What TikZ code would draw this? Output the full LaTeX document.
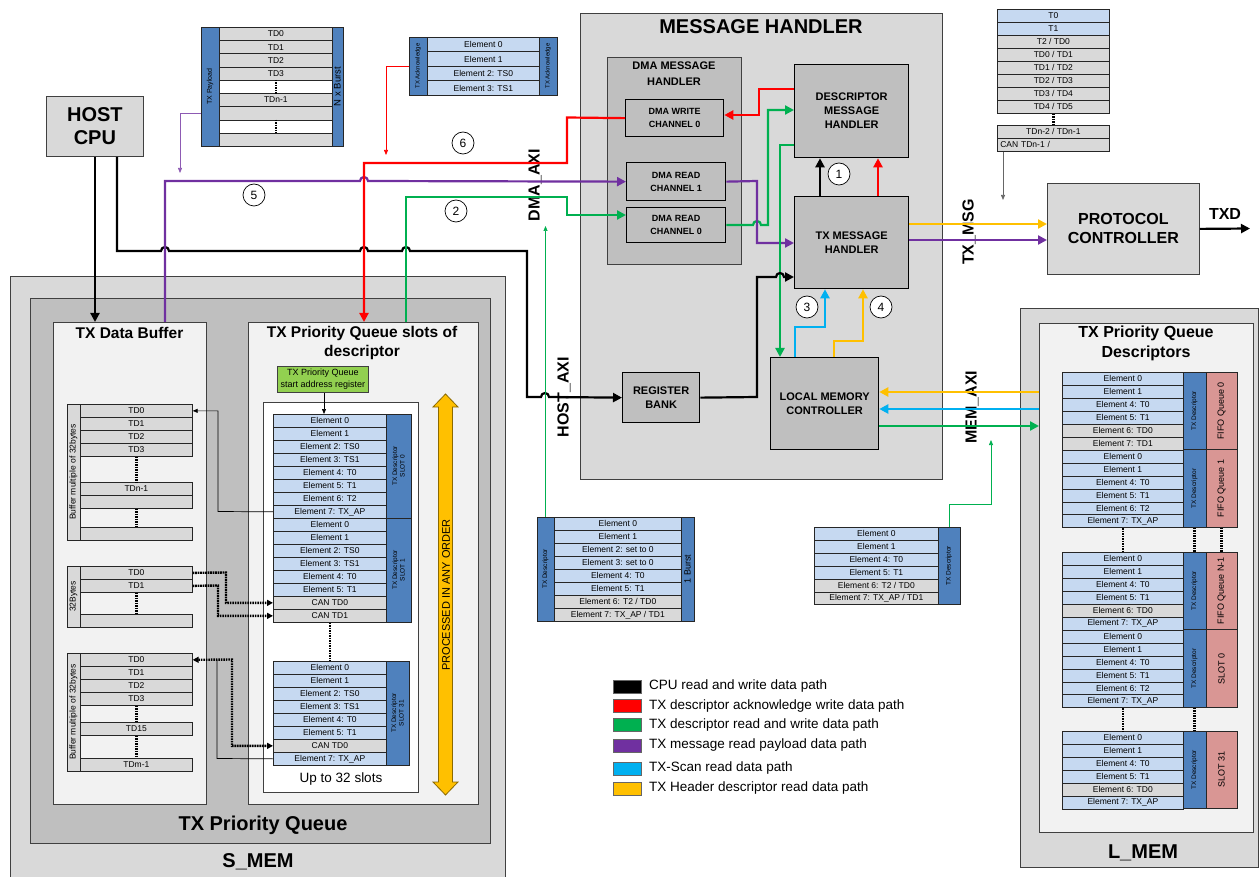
\documentclass[tikz,border=0pt]{standalone}
\usepackage{fontspec}
\setmainfont{Liberation Sans}
\usetikzlibrary{arrows.meta, positioning, calc}

\definecolor{boxgray}{HTML}{D9D9D9}
\definecolor{midgray}{HTML}{BFBFBF}
\definecolor{paper}{HTML}{F2F2F2}
\definecolor{rowblue}{HTML}{C6D9F1}
\definecolor{rowgray}{HTML}{D9D9D9}
\definecolor{barblue}{HTML}{4F81BD}
\definecolor{barred}{HTML}{D99694}
\definecolor{regreen}{HTML}{92D050}
\definecolor{pathred}{HTML}{FF0000}
\definecolor{pathgreen}{HTML}{00B050}
\definecolor{pathpurple}{HTML}{7030A0}
\definecolor{pathblue}{HTML}{00B0F0}
\definecolor{pathyellow}{HTML}{FFC000}

\newcommand{\fsz}[2]{\fontsize{#1}{#2}\selectfont}

\tikzset{
  box/.style={draw=black!75, line width=0.8pt, anchor=north west, inner sep=0pt, align=center},
  blk/.style={draw=black, line width=1.3pt, fill=midgray, anchor=north west, inner sep=0pt, align=center},
  cell/.style={draw=black!85, line width=0.7pt, anchor=north west, inner sep=0pt, font=\fsz{8.5}{9}},
  bar/.style={draw=black!85, line width=0.7pt, inner sep=0pt, rotate=90, align=center, font=\fsz{6.5}{7.5}},
  wire/.style={line width=2.2pt, -{Triangle[length=9pt,width=9pt]}},
  feed/.style={line width=0.7pt, -{Triangle[length=5pt,width=4pt]}},
  gapline/.style={line width=2.4pt, dash pattern=on 1.6pt off 0.9pt},
  num/.style={draw, circle, fill=white, line width=0.7pt, minimum size=22pt, inner sep=0pt, font=\fsz{12}{12}},
  legswatch/.style={draw=black!60, line width=0.6pt, minimum width=28pt, minimum height=13pt, inner sep=0pt},
}

% rows of a descriptor / buffer, top left corner at (x,y)
\newcommand{\cellstack}[6]{%
  \foreach \col/\lab [count=\k from 0] in {#6}{%
    \node[cell, fill=\col, minimum width=#4, minimum height=#5] (#1\k) at (#2,{#3+\k*#5}) {\lab};
  }%
}
% side bar with rotated text: name, fill, x1, y1, x2, y2, text
\newcommand{\sidebar}[7]{%
  \node[bar, fill=#2, minimum width={#6-#4}, minimum height={#5-#3}] (#1) at ({(#3+#5)/2},{(#4+#6)/2}) {#7};
}

\begin{document}
\begin{tikzpicture}[x=1pt, y=-1pt]
\useasboundingbox (0,0) rectangle (1259,877);

% S_MEM
\node[box, fill=boxgray, minimum width=495, minimum height=620] (smem) at (10,276) {};
\node[box, fill=midgray, minimum width=460, minimum height=545] (pq) at (30,298) {};
\node[box, fill=paper, minimum width=153, minimum height=482] (buf) at (53,322) {};
\node[box, fill=paper, minimum width=230, minimum height=482] (pqs) at (248,322) {};
\node[box, fill=white, minimum width=155, minimum height=390] (slots) at (263,402) {};
\node[font=\fsz{20}{20}\bfseries] (smemlbl) at (258,862) {S\_MEM};
\node[font=\fsz{20}{20}\bfseries] (pqlbl) at (263,825) {TX Priority Queue};
\node[font=\fsz{15.5}{15.5}\bfseries] (buflbl) at (129.5,333) {TX Data Buffer};
\node[font=\fsz{15.5}{19}\bfseries, align=center] (pqslbl) at (362,343) {TX Priority Queue slots of\\descriptor};
\node[box, fill=regreen, minimum width=91, minimum height=26, font=\fsz{9}{12}] (sareg) at (277,366) {TX Priority Queue\\start address register};

% slots
\cellstack{sa}{273}{414}{113}{13}{rowblue/Element 0, rowblue/Element 1, rowblue/Element 2: TS0, rowblue/Element 3: TS1, rowblue/Element 4: T0, rowblue/Element 5: T1, rowblue/Element 6: T2, rowblue/Element 7: TX\_AP}
\sidebar{sabar}{barblue}{386}{414}{411}{518}{TX Descriptor\\SLOT 0}
\cellstack{sb}{273}{518}{113}{13}{rowblue/Element 0, rowblue/Element 1, rowblue/Element 2: TS0, rowblue/Element 3: TS1, rowblue/Element 4: T0, rowblue/Element 5: T1, rowgray/CAN TD0, rowgray/CAN TD1}
\sidebar{sbbar}{barblue}{386}{518}{411}{622}{TX Descriptor\\SLOT 1}
\cellstack{sc}{273}{661}{113}{13}{rowblue/Element 0, rowblue/Element 1, rowblue/Element 2: TS0, rowblue/Element 3: TS1, rowblue/Element 4: T0, rowblue/Element 5: T1, rowgray/CAN TD0, rowblue/Element 7: TX\_AP}
\sidebar{scbar}{barblue}{386}{661}{409}{765}{TX Descriptor\\SLOT 31}
\draw[gapline] (sb7.south) -- (sc0.north);
\node[font=\fsz{13.5}{13.5}] (upto) at (341,779) {Up to 32 slots};
\draw[feed] (sareg.south -| 324,0) -- (sa0.north -| 324,0);

% processing order arrow
\draw[fill=pathyellow, draw=black!45!pathyellow, line width=0.8pt] (445.5,394) -- (458,407) -- (452.5,407) -- (452.5,782) -- (458,782) -- (445.5,795) -- (433,782) -- (438.5,782) -- (438.5,407) -- (433,407) -- cycle;
\node[rotate=90, font=\fsz{11}{11}] (order) at (446,595) {PROCESSED IN ANY ORDER};

% data buffers
\cellstack{ba}{80}{404}{112}{13}{rowgray/TD0, rowgray/TD1, rowgray/TD2, rowgray/TD3}
\cellstack{bn}{80}{482}{112}{13}{rowgray/TDn-1, rowgray/{}}
\cellstack{be}{80}{527}{112}{13}{rowgray/{}}
\sidebar{babar}{rowgray}{67}{404}{80}{540}{\fsz{8.5}{9}Buffer multiple of 32bytes}
\draw[gapline] (ba3.south) -- (bn0.north);
\draw[gapline] (bn1.south) -- (be0.north);

\cellstack{bb}{80}{566}{112}{13}{rowgray/TD0, rowgray/TD1}
\cellstack{bf}{80}{614}{112}{13}{rowgray/{}}
\sidebar{bbbar}{rowgray}{67}{566}{80}{627}{\fsz{8.5}{9}32Bytes}
\draw[gapline] (bb1.south) -- (bf0.north);

\cellstack{bc}{80}{653}{112}{13}{rowgray/TD0, rowgray/TD1, rowgray/TD2, rowgray/TD3}
\cellstack{bd}{80}{722}{112}{13}{rowgray/TD15}
\cellstack{bm}{80}{758}{112}{13}{rowgray/TDm-1}
\sidebar{bcbar}{rowgray}{67}{653}{80}{771}{\fsz{8.5}{9}Buffer multiple of 32bytes}
\draw[gapline] (bc3.south) -- (bd0.north);
\draw[gapline] (bd0.south) -- (bm0.north);

\draw[feed] (sa7.west) -- (218,511.5) |- (ba0.east);
\draw[gapline, -{Triangle[length=6pt,width=6pt]}] (bb0.east) -- (226,572.5) |- (sb6.west);
\draw[gapline, -{Triangle[length=6pt,width=6pt]}] (bb1.east) -- (218,585.5) |- (sb7.west);
\draw[gapline, {Triangle[length=6pt,width=6pt]}-{Triangle[length=6pt,width=6pt]}] (bc0.east) -- (232,659.5) |- (sc6.west);
\draw[line width=0.7pt] (sc7.west) -- (217,758.5) -- (217,659.5);

% payload and acknowledge
\sidebar{paybar}{barblue}{201}{27}{219}{146}{\fsz{7}{7}TX Payload}
\cellstack{pl}{219}{27}{113}{13.22}{rowgray/TD0, rowgray/TD1, rowgray/TD2, rowgray/TD3, white/{}, rowgray/TDn-1, rowgray/{}, white/{}, rowgray/{}}
\sidebar{burstbar}{barblue}{332}{27}{343}{146}{\fsz{9.5}{9.5}N x Burst}
\draw[gapline] (pl4.north) -- (pl4.south);
\draw[gapline] (pl7.north) -- (pl7.south);

\sidebar{ackl}{barblue}{409}{37}{427}{95}{\fsz{6}{6}TX Acknowledge}
\cellstack{ak}{427}{37}{112}{14.5}{rowblue/Element 0, rowblue/Element 1, rowblue/Element 2: TS0, rowblue/Element 3: TS1}
\sidebar{ackr}{barblue}{539}{37}{557}{95}{\fsz{6}{6}TX Acknowledge}

\node[box, fill=boxgray, minimum width=97, minimum height=60, font=\fsz{20}{23}\bfseries] (cpu) at (46,96) {HOST\\CPU};

% message handler
\node[box, fill=boxgray, minimum width=362, minimum height=466] (mh) at (580,13) {};
\node[font=\fsz{20}{20}\bfseries] (mhlbl) at (761,27) {MESSAGE HANDLER};
\node[box, fill=midgray, line width=1pt, minimum width=134, minimum height=207] (dmah) at (607,57) {};
\node[font=\fsz{11}{16}\bfseries, align=center] (dmahlbl) at (674,74) {DMA MESSAGE\\HANDLER};
\node[blk, minimum width=98, minimum height=37, font=\fsz{9}{13}\bfseries] (dmaw) at (625,99) {DMA WRITE\\CHANNEL 0};
\node[blk, minimum width=99, minimum height=38, font=\fsz{9}{13}\bfseries] (dmar1) at (626,162) {DMA READ\\CHANNEL 1};
\node[blk, minimum width=99, minimum height=35, font=\fsz{9}{13}\bfseries] (dmar0) at (626,207) {DMA READ\\CHANNEL 0};
\node[blk, minimum width=114, minimum height=93, font=\fsz{11}{14}\bfseries] (desc) at (794,64) {DESCRIPTOR\\MESSAGE\\HANDLER};
\node[blk, minimum width=114, minimum height=92, font=\fsz{11}{14}\bfseries] (txmh) at (794,196) {TX MESSAGE\\HANDLER};
\node[blk, minimum width=77, minimum height=50, font=\fsz{11}{14}\bfseries] (regb) at (622,372) {REGISTER\\BANK};
\node[blk, minimum width=108, minimum height=92, font=\fsz{11}{14}\bfseries] (lmc) at (770,357) {LOCAL MEMORY\\CONTROLLER};

% protocol controller
\node[box, fill=boxgray, minimum width=152, minimum height=91, font=\fsz{16}{19}\bfseries] (proto) at (1047,183) {PROTOCOL\\CONTROLLER};
\node[font=\fsz{16}{16}\bfseries] (txd) at (1225,214) {TXD};

\cellstack{tm}{997}{9}{112}{13}{rowblue/T0, rowblue/T1, rowgray/{T2 / TD0}, rowgray/{TD0 / TD1}, rowgray/{TD1 / TD2}, rowgray/{TD2 / TD3}, rowgray/{TD3 / TD4}, rowgray/{TD4 / TD5}}
\cellstack{tn}{997}{125}{112}{13}{rowgray/{TDn-2 / TDn-1}}
\node[cell, fill=rowgray, minimum width=112, minimum height=13, text width=106pt, align=left] (tnlast) at (997,138) {CAN TDn-1 /};
\draw[gapline] (tm7.south) -- (tn0.north);
\draw[feed, black!60] ($(tnlast.south west)+(6,0)$) -- (1003,200);

% L_MEM
\node[box, fill=boxgray, minimum width=238, minimum height=559] (lmem) at (1020,308) {};
\node[box, fill=paper, minimum width=214, minimum height=509] (lmin) at (1039,323) {};
\node[font=\fsz{16}{20}\bfseries, align=center] (lminlbl) at (1146,343) {TX Priority Queue\\Descriptors};
\node[font=\fsz{20}{20}\bfseries] (lmemlbl) at (1143,853) {L\_MEM};

\cellstack{qa}{1062}{372}{121}{12.95}{rowblue/Element 0, rowblue/Element 1, rowblue/Element 4: T0, rowblue/Element 5: T1, rowgray/Element 6: TD0, rowgray/Element 7: TD1}
\sidebar{qabar}{barblue}{1183}{372}{1206}{449.7}{TX Descriptor}
\sidebar{qared}{barred}{1206}{372}{1237}{449.7}{\fsz{9}{9}FIFO Queue 0}
\cellstack{qb}{1062}{449.7}{121}{12.95}{rowblue/Element 0, rowblue/Element 1, rowblue/Element 4: T0, rowblue/Element 5: T1, rowblue/Element 6: T2, rowblue/Element 7: TX\_AP}
\sidebar{qbbar}{barblue}{1183}{449.7}{1206}{527.4}{TX Descriptor}
\sidebar{qbred}{barred}{1206}{449.7}{1237}{527.4}{\fsz{9}{9}FIFO Queue 1}
\cellstack{qc}{1062}{552}{121}{12.95}{rowblue/Element 0, rowblue/Element 1, rowblue/Element 4: T0, rowblue/Element 5: T1, rowgray/Element 6: TD0, rowblue/Element 7: TX\_AP}
\sidebar{qcbar}{barblue}{1183}{552}{1206}{629.7}{TX Descriptor}
\sidebar{qcred}{barred}{1206}{552}{1237}{629.7}{\fsz{9}{9}FIFO Queue N-1}
\cellstack{qd}{1062}{629.7}{121}{12.95}{rowblue/Element 0, rowblue/Element 1, rowblue/Element 4: T0, rowblue/Element 5: T1, rowblue/Element 6: T2, rowblue/Element 7: TX\_AP}
\sidebar{qdbar}{barblue}{1183}{629.7}{1206}{707.4}{TX Descriptor}
\sidebar{qdred}{barred}{1206}{629.7}{1237}{707.4}{\fsz{9}{9}SLOT 0}
\cellstack{qe}{1062}{731}{121}{12.95}{rowblue/Element 0, rowblue/Element 1, rowblue/Element 4: T0, rowblue/Element 5: T1, rowgray/Element 6: TD0, rowblue/Element 7: TX\_AP}
\sidebar{qebar}{barblue}{1183}{731}{1206}{808.7}{TX Descriptor}
\sidebar{qered}{barred}{1206}{731}{1237}{808.7}{\fsz{9}{9}SLOT 31}
\draw[gapline] (qb5.south) -- (qc0.north);
\draw[gapline] (qbbar.west) -- (qcbar.east);
\draw[gapline] (qbred.west) -- (qcred.east);
\draw[gapline] (qd5.south) -- (qe0.north);
\draw[gapline] (qdbar.west) -- (qebar.east);

% descriptors in flight
\sidebar{bstl}{barblue}{537}{517}{554}{621}{TX Descriptor}
\cellstack{bs}{554}{517}{127}{13}{rowblue/Element 0, rowblue/Element 1, rowblue/Element 2: set to 0, rowblue/Element 3: set to 0, rowblue/Element 4: T0, rowblue/Element 5: T1, rowgray/{Element 6: T2 / TD0}, rowgray/{Element 7: TX\_AP / TD1}}
\sidebar{bstr}{barblue}{681}{517}{694}{621}{\fsz{9}{9}1 Burst}
\cellstack{ds}{814}{527}{124}{12.9}{rowblue/Element 0, rowblue/Element 1, rowblue/Element 4: T0, rowblue/Element 5: T1, rowgray/{Element 6: T2 / TD0}, rowgray/{Element 7: TX\_AP / TD1}}
\sidebar{dsbar}{barblue}{938}{527}{960}{604.4}{TX Descriptor}

% bus labels
\node[rotate=90, font=\fsz{16}{16}\bfseries] (dmaaxi) at (535,185) {DMA\_AXI};
\node[rotate=90, font=\fsz{16}{16}\bfseries] (hostaxi) at (564,397) {HOST\_AXI};
\node[rotate=90, font=\fsz{16}{16}\bfseries] (memaxi) at (972,407) {MEM\_AXI};
\node[rotate=90, font=\fsz{16}{16}\bfseries] (txmsg) at (969,232) {TX\_MSG};

% data paths
\draw[wire] (cpu.south -| 95,0) -- (buf.north -| 95,0);
\draw[wire] (cpu.south -| 117,0) -- (117,251) -- (161,251) arc[start angle=180, end angle=360, radius=4] -- (360,251) arc[start angle=180, end angle=360, radius=4] -- (402,251) arc[start angle=180, end angle=360, radius=4] -- (527,251) -- (527,397) -- (541,397) arc[start angle=180, end angle=360, radius=4] -- (regb.west);
\draw[wire, pathpurple] (buf.north -| 165,0) -- (165,181) -- (360,181) arc[start angle=180, end angle=360, radius=4] -- (dmar1.west);
\draw[wire, pathred] (dmaw.west) -- (567,117.5) -- (567,163) -- (364,163) -- (pqs.north -| 364,0);
\draw[wire, pathgreen] (pqs.north -| 406,0) -- (406,197) -- (567,197) -- (567,215) -- (dmar0.west |- 0,215);

\draw[wire, pathred] (desc.west |- 0,89) -- (759,89) -- (759,115) -- (dmaw.east |- 0,115);
\draw[wire, pathgreen] (dmar0.east |- 0,225) -- (753,225) arc[start angle=180, end angle=360, radius=4] -- (768,225) -- (768,110) -- (desc.west |- 0,110);
\draw[wire, pathpurple] (dmar1.east) -- (757,181) -- (757,243) -- (txmh.west |- 0,243);
\draw[wire, pathgreen] (desc.west |- 0,145) -- (780,145) -- (lmc.north -| 780,0);
\draw[wire] (regb.east) -- (757,397) -- (757,277) -- (776,277) arc[start angle=180, end angle=360, radius=4] -- (txmh.west |- 0,277);
\draw[wire] (txmh.north -| 820,0) -- (desc.south -| 820,0);
\draw[wire, pathred] (txmh.north -| 878,0) -- (desc.south -| 878,0);
\draw[wire, pathblue] (lmc.north -| 795,0) -- (795,327) -- (825,327) -- (txmh.south -| 825,0);
\draw[wire, pathyellow] (lmc.north -| 834,0) -- (834,341) -- (863,341) -- (txmh.south -| 863,0);
\draw[wire, pathyellow] (lmin.west |- 0,392) -- (lmc.east |- 0,392);
\draw[wire, pathblue] (lmin.west |- 0,409) -- (lmc.east |- 0,409);
\draw[wire, pathgreen] (lmc.east |- 0,426) -- (lmin.west |- 0,426);
\draw[wire, pathyellow] (txmh.east |- 0,224) -- (proto.west |- 0,224);
\draw[wire, pathpurple] (txmh.east |- 0,240) -- (proto.west |- 0,240);
\draw[wire] (proto.east) -- (1250,228.5);

% where the descriptors come from
\draw[feed, pathpurple!80] (paybar.north |- 0,113) -- (180,113) -- (180,173);
\draw[feed, pathred] (ackl.north |- 0,66) -- (386,66) -- (386,155);
\draw[feed, pathgreen] (bstl.east) -- (545.5,226);
\draw[feed, pathgreen] (dsbar.east) -- (949,504) -- (991,504) -- (991,440);

% step numbers
\node[num] (n1) at (839,174) {1};
\node[num] (n2) at (456,211) {2};
\node[num] (n3) at (807,307) {3};
\node[num] (n4) at (881,307) {4};
\node[num] (n5) at (254,195) {5};
\node[num] (n6) at (463,143) {6};

% legend
\foreach \yy/\col/\lab [count=\k] in {686.5/black/CPU read and write data path, 706/pathred/TX descriptor acknowledge write data path, 725/pathgreen/TX descriptor read and write data path, 745.5/pathpurple/TX message read payload data path, 768.5/pathblue/TX-Scan read data path, 788.5/pathyellow/TX Header descriptor read data path}{
  \node[legswatch, fill=\col] (sw\k) at (627,\yy) {};
  \node[anchor=west, inner sep=0pt, font=\fsz{13.5}{13.5}] (lg\k) at (649,\yy) {\lab};
}
\end{tikzpicture}
\end{document}
